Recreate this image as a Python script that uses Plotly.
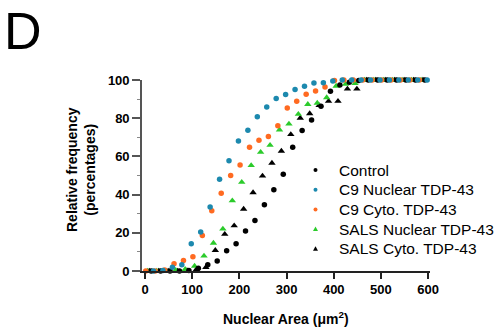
import plotly.graph_objects as go

# Bin centres (Nuclear area, µm²)
area_bins = [10, 30, 50, 70, 90, 110, 130, 150, 170, 190, 210, 230, 250, 270, 290,
             310, 330, 350, 370, 390, 410, 430, 450, 470, 490, 510, 530, 550, 570, 590]

series_names = ["Control", "C9 Nuclear TDP-43", "C9 Cyto. TDP-43",
                "SALS Nuclear TDP-43", "SALS Cyto. TDP-43"]

control = [0, 0, 0, 0, 0.2, 1.4, 3.3, 5.2, 10.6, 14.3, 20.9, 26.5, 34.7, 42.5, 50.7,
           64.8, 73.5, 79.0, 86.2, 94.1, 97.4, 98.8, 99.7, 100, 100, 100, 100, 100, 100, 100]
c9_nuclear = [0, 0.3, 1.9, 3.3, 14.3, 20.4, 33.5, 48.1, 57.7, 68.0, 73.7, 80.7, 85.9, 90.3, 92.4,
              95.0, 96.7, 98.4, 98.6, 99.5, 100, 100, 100, 100, 100, 100, 100, 100, 100, 100]
c9_cyto = [0, 0, 0.5, 3.8, 5.5, 7.5, 18.6, 31.5, 40.7, 50.0, 55.5, 64.8, 68.5, 70.4, 76.0,
           85.3, 88.9, 92.5, 94.3, 96.3, 99.8, 100, 100, 100, 100, 100, 100, 100, 100, 100]
sals_nuclear = [0, 0, 0, 0.4, 0.9, 2.6, 7.9, 14.6, 22.0, 36.8, 46.5, 55.3, 62.2, 65.9, 73.9,
                77.0, 82.1, 87.3, 87.9, 90.8, 96.8, 97.8, 98.3, 100, 100, 100, 100, 100, 100, 100]
sals_cyto = [0, 0, 0, 0, 0.2, 0.9, 1.9, 10.8, 19.3, 23.7, 32.4, 41.1, 49.8, 56.5, 62.8,
             71.5, 80.1, 82.4, 86.7, 88.9, 88.9, 95.3, 95.3, 100, 100, 100, 100, 100, 100, 100]

values = [control, c9_nuclear, c9_cyto, sals_nuclear, sals_cyto]
colors = ["#000000", "#1C89AE", "#FF6A21", "#2BCB2B", "#000000"]
symbols = ["circle", "circle", "circle", "triangle-up", "triangle-up"]
sizes = [5.5, 5.5, 5.5, 6.5, 6.5]
stagger = [3, 8, -8.5, -5, -1]   # horizontal offset of each series' points

FONT = "Arial, Liberation Sans, sans-serif"
L, T, PW, PH = 142, 80, 288, 191   # plot area in pixels


def px2paper(px, py):
    return (px - L) / PW, (T + PH - py) / PH


fig = go.Figure()
draw_order = [4, 3, 0, 2, 1]
for i in draw_order:
    fig.add_trace(go.Scatter(
        x=[b + stagger[i] for b in area_bins], y=values[i], mode="markers",
        name=series_names[i],
        marker=dict(symbol=symbols[i], color=colors[i], size=sizes[i], line=dict(width=0)),
        showlegend=False, cliponaxis=False, hoverinfo="skip"))

# hand-built legend (text annotations + small symbol shapes)
annotations = []
shapes = []
for k, name in enumerate(series_names):
    row_y = 170 + k * 19.7
    tx, ty = px2paper(337, row_y)
    annotations.append(dict(text=name, xref="paper", yref="paper", x=tx, y=ty,
                            xanchor="left", yanchor="middle", showarrow=False,
                            font=dict(size=15.5, family=FONT, color="#000000")))
    mx, my = px2paper(315.5, row_y)
    if symbols[k] == "circle":
        shapes.append(dict(type="circle", xref="paper", yref="paper",
                           xsizemode="pixel", ysizemode="pixel", xanchor=mx, yanchor=my,
                           x0=-2, x1=2, y0=-2, y1=2,
                           fillcolor=colors[k], line=dict(width=0)))
    else:
        shapes.append(dict(type="path", xref="paper", yref="paper",
                           xsizemode="pixel", ysizemode="pixel", xanchor=mx, yanchor=my,
                           path="M -2.5 -2 L 2.5 -2 L 0 2.5 Z",
                           fillcolor=colors[k], line=dict(width=0)))

axis_font = dict(family=FONT, size=13, color="#000000")

yx, yy = px2paper(81, 170)
xx, xy = px2paper(286, 318)
dx, dy = px2paper(2, 31)
annotations += [
    dict(text="<b>Relative frequency<br>(percentages)</b>", textangle=-90,
         xref="paper", yref="paper", x=yx, y=yy,
         xanchor="center", yanchor="middle", showarrow=False,
         font=dict(size=14, family=FONT, color="#000000")),
    dict(text="<b>Nuclear Area (μm<sup>2</sup>)</b>",
         xref="paper", yref="paper", x=xx, y=xy,
         xanchor="center", yanchor="middle", showarrow=False,
         font=dict(size=14, family=FONT, color="#000000")),
    dict(text="D", xref="paper", yref="paper", x=dx, y=dy,
         xanchor="left", yanchor="middle", showarrow=False,
         font=dict(size=52, family=FONT, color="#000000")),
]

fig.update_layout(
    width=496, height=333,
    margin=dict(l=L, r=496 - L - PW, t=T, b=333 - T - PH, autoexpand=False),
    paper_bgcolor="white", plot_bgcolor="white",
    font=dict(family=FONT, color="#000000"),
    showlegend=False,
    xaxis=dict(range=[-6.4, 604], tickvals=[0, 100, 200, 300, 400, 500, 600],
               ticktext=["<b>%d</b>" % v for v in [0, 100, 200, 300, 400, 500, 600]],
               showline=True, linecolor="#222222", linewidth=1.6,
               ticks="outside", ticklen=6, tickwidth=1.5, tickcolor="#222222",
               showgrid=False, zeroline=False, tickfont=axis_font, automargin=False),
    yaxis=dict(range=[0, 100], tickvals=[0, 20, 40, 60, 80, 100],
               ticktext=["<b>%d</b>" % v for v in [0, 20, 40, 60, 80, 100]],
               showline=True, linecolor="#555555", linewidth=1.6,
               ticks="outside", ticklen=8, tickwidth=1.5, tickcolor="#555555",
               minor=dict(dtick=10, ticks="outside", ticklen=3, tickwidth=1.2, tickcolor="#888888"),
               showgrid=False, zeroline=False, tickfont=axis_font, automargin=False),
    annotations=annotations,
    shapes=shapes,
)

fig.write_html("out.html")
